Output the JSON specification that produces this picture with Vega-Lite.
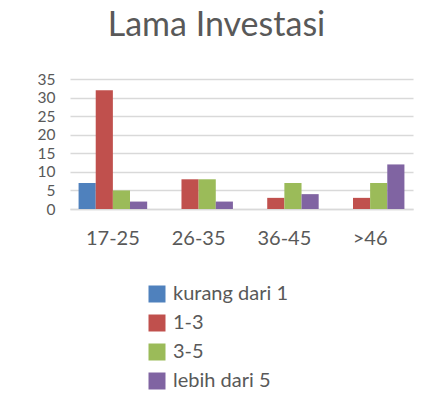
{
  "$schema": "https://vega.github.io/schema/vega-lite/v6.json",
  "width": 343,
  "height": 130,
  "autosize": {"type": "none"},
  "padding": {"left": 70, "top": 79, "right": 22, "bottom": 207},
  "background": "white",
  "title": {
    "text": "Lama Investasi",
    "font": "Lato",
    "fontSize": 34,
    "fontWeight": "normal",
    "color": "#595959",
    "anchor": "middle",
    "offset": 29,
    "dx": -25
  },
  "data": {
    "values": [
      {"usia": "17-25", "lama": "kurang dari 1", "jumlah": 7},
      {"usia": "17-25", "lama": "1-3", "jumlah": 32},
      {"usia": "17-25", "lama": "3-5", "jumlah": 5},
      {"usia": "17-25", "lama": "lebih dari 5", "jumlah": 2},
      {"usia": "26-35", "lama": "kurang dari 1", "jumlah": 0},
      {"usia": "26-35", "lama": "1-3", "jumlah": 8},
      {"usia": "26-35", "lama": "3-5", "jumlah": 8},
      {"usia": "26-35", "lama": "lebih dari 5", "jumlah": 2},
      {"usia": "36-45", "lama": "kurang dari 1", "jumlah": 0},
      {"usia": "36-45", "lama": "1-3", "jumlah": 3},
      {"usia": "36-45", "lama": "3-5", "jumlah": 7},
      {"usia": "36-45", "lama": "lebih dari 5", "jumlah": 4},
      {"usia": ">46", "lama": "kurang dari 1", "jumlah": 0},
      {"usia": ">46", "lama": "1-3", "jumlah": 3},
      {"usia": ">46", "lama": "3-5", "jumlah": 7},
      {"usia": ">46", "lama": "lebih dari 5", "jumlah": 12}
    ]
  },
  "mark": {"type": "bar"},
  "encoding": {
    "x": {
      "field": "usia",
      "type": "nominal",
      "sort": ["17-25", "26-35", "36-45", ">46"],
      "scale": {"paddingInner": 0.2, "paddingOuter": 0.1},
      "axis": {
        "title": null,
        "labelAngle": 0,
        "labelFont": "Lato",
        "labelFontSize": 20,
        "labelColor": "#595959",
        "labelPadding": 19,
        "ticks": false,
        "domain": true,
        "domainColor": "#d9d9d9",
        "domainWidth": 1.5
      }
    },
    "xOffset": {
      "field": "lama",
      "type": "nominal",
      "sort": ["kurang dari 1", "1-3", "3-5", "lebih dari 5"]
    },
    "y": {
      "field": "jumlah",
      "type": "quantitative",
      "scale": {"domain": [0, 35], "nice": false},
      "axis": {
        "title": null,
        "values": [0, 5, 10, 15, 20, 25, 30, 35],
        "labelOverlap": false,
        "labelFont": "Lato",
        "labelFontSize": 15.5,
        "labelColor": "#595959",
        "labelPadding": 15,
        "ticks": false,
        "domain": false,
        "grid": true,
        "gridColor": "#d9d9d9",
        "gridWidth": 1.5
      }
    },
    "color": {
      "field": "lama",
      "type": "nominal",
      "sort": ["kurang dari 1", "1-3", "3-5", "lebih dari 5"],
      "scale": {
        "domain": ["kurang dari 1", "1-3", "3-5", "lebih dari 5"],
        "range": ["#4f81bd", "#c0504d", "#9bbb59", "#8064a2"]
      },
      "legend": {
        "title": null,
        "orient": "none",
        "legendX": 77,
        "legendY": 205,
        "direction": "vertical",
        "symbolType": "square",
        "symbolSize": 289,
        "symbolStrokeWidth": 0,
        "symbolOpacity": 1,
        "labelFont": "Lato",
        "labelFontSize": 20,
        "labelColor": "#595959",
        "labelOffset": 6,
        "rowPadding": 9
      }
    }
  },
  "config": {"view": {"stroke": null}}
}
